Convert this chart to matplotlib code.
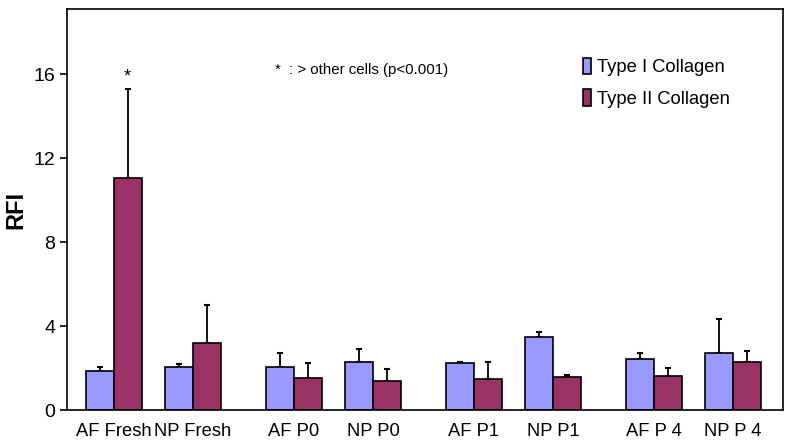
import numpy as np
import matplotlib.pyplot as plt

plt.rcParams['font.family'] = ['Liberation Sans', 'DejaVu Sans']

groups = ["AF Fresh", "NP Fresh", "AF P0", "NP P0", "AF P1", "NP P1", "AF P 4", "NP P 4"]
type1 = [1.86, 2.05, 2.05, 2.3, 2.22, 3.47, 2.42, 2.73]
type1_err = [0.19, 0.13, 0.65, 0.6, 0.08, 0.23, 0.31, 1.62]
type2 = [11.05, 3.2, 1.52, 1.38, 1.47, 1.57, 1.6, 2.3]
type2_err = [4.25, 1.8, 0.72, 0.56, 0.83, 0.1, 0.4, 0.52]

col1 = "#9999FF"
col2 = "#993366"

fig = plt.figure(figsize=(8, 4.48), dpi=100)
ax = fig.add_axes([67/800, 1-410/448, (783-67)/800, (410-9)/448])

idx = np.arange(len(groups))
x = idx + 0.27*(idx//2)
w = 0.35

ax.bar(x - w/2, type1, w, color=col1, edgecolor="black", linewidth=1.2, label="Type I Collagen", zorder=2)
ax.bar(x + w/2, type2, w, color=col2, edgecolor="black", linewidth=1.2, label="Type II Collagen", zorder=2)
ax.errorbar(x - w/2, type1, yerr=[np.zeros(len(type1)), type1_err], fmt="none", ecolor="black",
            elinewidth=1.3, capsize=2, capthick=1.5, zorder=1)
ax.errorbar(x + w/2, type2, yerr=[np.zeros(len(type2)), type2_err], fmt="none", ecolor="black",
            elinewidth=1.3, capsize=2, capthick=1.5, zorder=1)

ax.text(x[0] + w/2, 15.85, "*", ha="center", va="center", fontsize=13)
ax.text(2.03, 16.2, "*  : > other cells (p<0.001)", ha="left", va="center", fontsize=10.8)

ax.set_xlim(-0.59, 8.44)
ax.set_ylim(0, 19.1)
ax.set_yticks([0, 4, 8, 12, 16])
ax.set_xticks(x)
ax.set_xticklabels(groups, fontsize=13.2)
ax.tick_params(axis="x", length=0, pad=9)
ax.tick_params(axis="y", labelsize=14, direction="out", length=5, width=1.2)
ax.set_ylabel("RFI", fontsize=17, fontweight="bold")
ax.yaxis.set_label_coords(-0.056, 0.5)
for s in ax.spines.values():
    s.set_linewidth(1.2)

ax.legend(loc="upper left", bbox_to_anchor=(0.697, 0.92), frameon=False, fontsize=13.2,
          handlelength=0.45, handleheight=1.0, handletextpad=0.35, labelspacing=0.72)

fig.savefig("out.png", dpi=100)
